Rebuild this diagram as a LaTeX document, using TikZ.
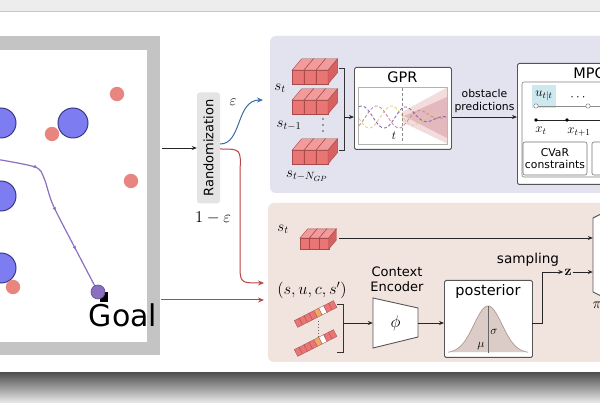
\documentclass[tikz,border=0pt]{standalone}
\usepackage{fix-cm}
\usepackage[no-math]{fontspec}
\setmainfont{DejaVu Sans}
\usepackage{tikz}
\usetikzlibrary{arrows.meta,shapes.geometric,decorations.markings,positioning}
\usepackage{xcolor}

\definecolor{panelblue}{HTML}{E2E3EF}
\definecolor{panelred}{HTML}{F1E4DE}
\definecolor{cubefront}{HTML}{E97575}
\definecolor{cubetop}{HTML}{F29B9B}
\definecolor{cubeside}{HTML}{D66161}
\definecolor{cubeedge}{HTML}{A84A4A}
\definecolor{barorange}{HTML}{F0A868}
\definecolor{obsblue}{HTML}{7D7CF0}
\definecolor{obsedge}{HTML}{3A3A86}
\definecolor{obsred}{HTML}{E8857F}
\definecolor{trajcol}{HTML}{8B70C2}
\definecolor{epsblue}{HTML}{3B6BA8}
\definecolor{epsred}{HTML}{B94444}
\definecolor{framegray}{HTML}{C4C4C4}
\definecolor{boxedge}{HTML}{555555}
\definecolor{randgray}{HTML}{E4E4E4}
\definecolor{gpyellow}{HTML}{E6CF8E}
\definecolor{gppurple}{HTML}{8C6AB0}
\definecolor{gppink}{HTML}{C9909E}
\definecolor{fanlight}{HTML}{F3DCDC}
\definecolor{fandark}{HTML}{E4B9BD}
\definecolor{ucyan}{HTML}{CDE8EE}
\definecolor{bellfill}{HTML}{DCCCC7}
\definecolor{belledge}{HTML}{B09A93}

% a row of three cubes: front bottom-left corner #1,#2 and cube width #3
\newcommand{\cuberow}[3]{%
  \foreach \k in {0,1,2} {
    \begin{scope}[shift={(#1+\k*#3,#2)}, draw=cubeedge, line width=0.4pt]
      \filldraw[fill=cubefront] (0,0) rectangle (#3,-1.15*#3);
      \filldraw[fill=cubetop] (0,-1.15*#3) -- (0.8*#3,-2.1*#3) -- (1.8*#3,-2.1*#3) -- (#3,-1.15*#3) -- cycle;
      \filldraw[fill=cubeside] (#3,0) -- (1.8*#3,-0.95*#3) -- (1.8*#3,-2.1*#3) -- (#3,-1.15*#3) -- cycle;
    \end{scope}}}

% one (s,u,c,s') tuple as a slanted bar
\newcommand{\tuplebar}[2]{%
  \begin{scope}[shift={(#1,#2)}, rotate=27]
    \foreach \i/\c in {0/cubefront,1/cubefront,2/cubefront,3/cubefront,4/barorange,5/white,6/cubefront,7/cubefront}
      \filldraw[fill=\c, draw=cubeedge, line width=0.3pt] (\i*5.5,-3.8) rectangle (\i*5.5+5.5,3.8);
  \end{scope}}

\begin{document}
\begin{tikzpicture}[x=1pt,y=-1pt]
\tikzstyle{txt} = [font=\fontsize{14.5}{16}\selectfont, inner sep=0pt]
\tikzstyle{smalltxt} = [font=\fontsize{10.8}{12.5}\selectfont, inner sep=0pt, align=center]
\tikzstyle{mlbl} = [font=\fontsize{15}{16}\selectfont, inner sep=0pt]
\tikzstyle{line} = [draw=black!85, line width=0.7pt, -{Stealth[length=5pt,width=4pt]}]
\tikzstyle{block} = [draw=boxedge, line width=0.9pt, fill=white, rounded corners=1.5pt, inner sep=0pt]
\tikzstyle{eps} = [line width=1pt, -{Stealth[length=6pt,width=5pt]}]
\useasboundingbox (0,0) rectangle (600,403);

% page and shadow
\fill[white] (0,0) rectangle (600,403);
\fill[black!7] (0,0) rectangle (600,11);
\draw[black!22] (0,11.5) -- (600,11.5);
\shade[top color=black!68, bottom color=black!8] (0,373) rectangle (600,403);

% map
\fill[framegray] (-10,36) rectangle (160,355);
\fill[white] (-10,50) rectangle (147,342);
\foreach \cx/\cy in {1/123, 73/123, 1/196, 1/268}
  \filldraw[fill=obsblue, draw=obsedge, line width=1pt] (\cx,\cy) circle (15);
\foreach \cx/\cy in {117/94, 52/134, 131/181, 13/287}
  \fill[obsred] (\cx,\cy) circle (7.2);
\draw[trajcol, line width=1.2pt, postaction={decorate}, decoration={markings,
  mark=at position 0.24 with {\arrow{Latex[length=4pt,width=3.5pt]}},
  mark=at position 0.5 with {\arrow{Latex[length=4pt,width=3.5pt]}},
  mark=at position 0.74 with {\arrow{Latex[length=4pt,width=3.5pt]}}}]
  plot[smooth, tension=0.5] coordinates {(-5,159) (35,167) (44,178) (53,205) (75,248) (98,292)};
\fill[black] (100,292) rectangle (108,302);
\filldraw[fill=trajcol, draw=trajcol!70!black, line width=0.6pt] (98,292) circle (7);
\node[font=\fontsize{30}{32}\selectfont, inner sep=0pt] (goal) at (123,315) {Goal};
\coordinate (mapout) at (162,148);
\coordinate (mapred) at (161,300);

% randomization
\node[rotate=90, fill=randgray, rounded corners=3pt, minimum width=111, minimum height=23,
  font=\fontsize{13}{14}\selectfont, inner sep=0pt] (rand) at (208.5,148) {Randomization};
\draw[line] (mapout) -- (rand.north);

% panels
\fill[panelblue, rounded corners=6pt] (270,36) rectangle (620,193);
\fill[panelred, rounded corners=6pt] (268,203) rectangle (620,362);

\coordinate (topin) at (263,100);
\coordinate (botin) at (264,283);
\coordinate (botin2) at (264,300);
\draw[eps, epsblue] ([yshift=4pt]rand.south) .. controls (242,144) and (236,100) .. (topin);
\draw[eps, epsred] ([yshift=-1pt]rand.south) .. controls (241,149) .. (240,172) -- (240,263) .. controls (240,283) .. (botin);
\draw[eps, epsred] (mapred) -- (botin2);
\node[mlbl] (epslbl) at (233,102) {$\varepsilon$};
\node[font=\fontsize{16.5}{18}\selectfont, inner sep=0pt] (oneeps) at (213,218) {$1-\varepsilon$};

% top panel: history of states
\cuberow{292}{84}{12}
\cuberow{292}{114}{12}
\cuberow{292}{164}{12}
\node[mlbl] (st1) at (280,88) {$s_t$};
\node[mlbl] (st2) at (289,126) {$s_{t-1}$};
\foreach \dy in {119,125,131}
  \fill[black!70] (323,\dy) circle (0.8);
\node[mlbl] (st3) at (307,176) {$s_{t-N_{GP}}$};
\draw[line width=0.7pt, black!80] (339,68) -- (344,68) -- (344,150) -- (339,150);
\coordinate (hist) at (344,117);

% GPR
\node[block, anchor=north west, minimum width=97, minimum height=82] (gpr) at (354,67) {};
\node[txt] (gprlbl) at (402.5,77) {GPR};
\filldraw[fill=white, draw=black!30, line width=0.6pt] (358,87) rectangle (447,144);
\fill[fanlight] (402,112) -- (447,87.5) -- (447,143.5) -- (402,122) -- cycle;
\fill[fandark] (404,116) -- (447,97) -- (447,138) -- cycle;
\foreach \ph/\col in {0/gpyellow, 2.1/gppink, 4.2/gppurple}
  \draw[\col, densely dashed, line width=0.9pt] plot[domain=359:446, samples=70, smooth]
    (\x, {117 + 11*min(1,(447-\x)/45)*sin(deg((\x-358)*0.14+\ph))});
\draw[black!45, densely dashed, line width=0.5pt] (402,88) -- (402,143);
\node[font=\fontsize{12}{13}\selectfont, inner sep=0pt] (tlbl) at (394,136) {$t$};
\draw[line] (hist) -- (hist -| gpr.west);

% MPC
\node[block, anchor=north west, minimum width=100, minimum height=121] (mpc) at (517,63) {};
\node[txt] (mpclbl) at (589,73) {MPC};
\draw[draw=black!50, line width=0.6pt, rounded corners=2pt] (522,82) rectangle (615,177);
\fill[ucyan] (532,85) rectangle (556,108);
\node[font=\fontsize{13}{14}\selectfont, inner sep=0pt] (uts) at (544,96) {$u_{t|t}$};
\node[font=\fontsize{13}{14}\selectfont, inner sep=0pt] (udots) at (578,98) {$\cdots$};
\node[font=\fontsize{13}{14}\selectfont, inner sep=0pt] (uend) at (604,96) {$u$};
\draw[black!45, line width=0.6pt] (536,106) -- (615,106);
\foreach \ux in {536,588}
  \filldraw[fill=white, draw=black!50, line width=0.5pt] (\ux,106) circle (2.2);
\draw[black!85, line width=0.6pt] (536,120) -- (615,120);
\foreach \xx in {536,567}
  \fill[black] (\xx,120) circle (1.8);
\node[font=\fontsize{13}{14}\selectfont, inner sep=0pt] (xt) at (541,131) {$x_t$};
\node[font=\fontsize{13}{14}\selectfont, inner sep=0pt] (xt1) at (579,132) {$x_{t+1}$};
\node[draw=black!55, line width=0.6pt, rounded corners=2pt, fill=white, minimum width=64,
  minimum height=33, smalltxt] (cvar) at (555,158.5) {CVaR\\constraints};
\draw[draw=black!55, line width=0.6pt, rounded corners=2pt, fill=white] (592,142) rectangle (650,175);
\draw[line] (gpr.east |- hist) -- node[smalltxt, above=4pt] {obstacle\\predictions} (hist -| mpc.west);

% bottom panel: current state
\cuberow{300}{249}{9.6}
\node[mlbl] (st0) at (283,229) {$s_t$};
\coordinate (stout) at (339,238);

% context tuples
\node[font=\fontsize{16.5}{18}\selectfont, inner sep=0pt] (tuple) at (312,290) {$(s,u,c,s')$};
\tuplebar{296}{324}
\tuplebar{296}{353}
\draw[black!60, line width=1pt, dotted] (318,321) -- (318,338);
\draw[line width=0.7pt, black!80] (337,304) -- (343,304) -- (343,352) -- (337,352);
\coordinate (ctx) at (343,323);

% context encoder
\filldraw[fill=white, draw=boxedge, line width=0.9pt] (373,298) -- (418,308) -- (418,337) -- (373,348) -- cycle;
\node[font=\fontsize{17}{18}\selectfont, inner sep=0pt, minimum width=45, minimum height=50] (enc) at (395.5,323) {$\phi$};
\node[txt, font=\fontsize{13}{15}\selectfont, align=center] (enclbl) at (397,279.5) {Context\\Encoder};
\draw[line] (ctx) -- (enc.west);

% posterior
\node[block, anchor=north west, minimum width=88, minimum height=77] (post) at (444,280) {};
\node[txt] (postlbl) at (488,292) {posterior};
\fill[bellfill] plot[domain=448:528, samples=60] (\x, {353-47*exp(-((\x-488)^2)/(2*14^2))}) -- cycle;
\draw[belledge, line width=0.7pt] plot[domain=448:528, samples=60] (\x, {353-47*exp(-((\x-488)^2)/(2*14^2))});
\draw[black!60, line width=0.6pt] (488,306) -- (488,353);
\node[font=\fontsize{12}{13}\selectfont, inner sep=0pt] (sig) at (494,332) {$\sigma$};
\node[font=\fontsize{12}{13}\selectfont, inner sep=0pt] (mu) at (481,346) {$\mu$};
\draw[line] (enc.east) -- (enc.east -| post.west);

% sampling and policy
\filldraw[fill=white, draw=boxedge, line width=0.9pt] (593,218) -- (615,207) -- (615,303) -- (593,292) -- cycle;
\node[minimum width=14, minimum height=74, inner sep=0pt] (pol) at (600,255) {};
\node[mlbl] (pilbl) at (597,305) {$\pi$};
\node[font=\fontsize{14}{15}\selectfont, inner sep=1pt] (z) at (568,272) {$\mathbf{z}$};
\coordinate (postout) at (532,323);
\draw[line] (postout) -- ++(10,0) |- (z.west);
\node[txt, font=\fontsize{13.6}{15}\selectfont] (samplbl) at (528,260) {sampling};
\draw[line] (z.east) -- (z.east -| pol.west);
\draw[line] (stout) -- (stout -| pol.west);
\end{tikzpicture}
\end{document}
